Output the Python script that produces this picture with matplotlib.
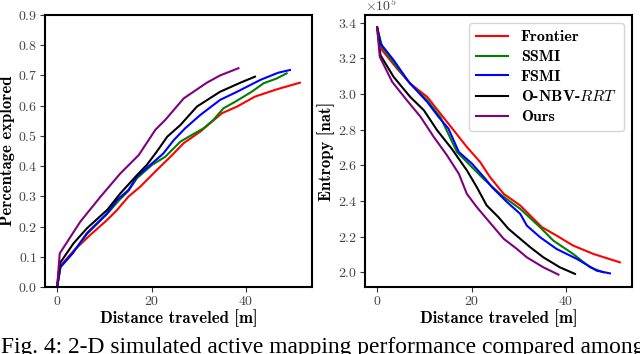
import matplotlib
matplotlib.use("Agg")
import matplotlib.pyplot as plt
import numpy as np
from matplotlib.font_manager import FontProperties

# ---------------- data ----------------
labels = ["Frontier", "SSMI", "FSMI", "O-NBV-$RRT$", "Ours"]
colors = ["red", "green", "blue", "black", "purple"]

# Left: percentage explored vs distance
pe_frontier_x = [0, 0.7, 3.5, 7.0, 10.6, 12.7, 15.1, 17.6, 21.1, 24.0, 26.8, 30.3, 34.9, 38.1, 41.9, 46.5, 51.4]
pe_frontier_y = [0, 0.070, 0.120, 0.172, 0.222, 0.255, 0.299, 0.332, 0.387, 0.431, 0.476, 0.514, 0.575, 0.597, 0.630, 0.654, 0.676]
pe_ssmi_x = [0, 0.7, 3.3, 6.3, 10.6, 13.0, 15.1, 16.9, 20.1, 22.9, 26.1, 28.5, 31.0, 33.1, 35.2, 37.7, 41.2, 43.7, 46.5, 48.6]
pe_ssmi_y = [0, 0.065, 0.112, 0.175, 0.242, 0.285, 0.318, 0.360, 0.404, 0.431, 0.481, 0.503, 0.525, 0.553, 0.591, 0.613, 0.646, 0.674, 0.690, 0.707]
pe_fsmi_x = [0, 0.7, 3.2, 6.3, 10.6, 12.7, 15.1, 16.9, 20.1, 22.5, 24.7, 27.1, 30.3, 34.5, 38.1, 43.0, 46.8, 49.3]
pe_fsmi_y = [0, 0.067, 0.110, 0.178, 0.244, 0.288, 0.321, 0.365, 0.409, 0.442, 0.486, 0.525, 0.569, 0.619, 0.646, 0.685, 0.709, 0.718]
pe_onbv_x = [0, 0.55, 3.5, 6.3, 10.6, 13.4, 16.9, 19.0, 21.1, 23.3, 26.1, 29.6, 34.5, 38.8, 41.9]
pe_onbv_y = [0, 0.078, 0.145, 0.194, 0.255, 0.310, 0.370, 0.404, 0.448, 0.497, 0.536, 0.597, 0.646, 0.676, 0.696]
pe_ours_x = [0, 0.55, 4.9, 9.2, 13.4, 17.3, 20.8, 22.9, 26.8, 31.7, 34.5, 38.4]
pe_ours_y = [0, 0.111, 0.216, 0.299, 0.376, 0.437, 0.520, 0.553, 0.624, 0.676, 0.700, 0.724]

# Right: entropy (units of 1e5 nat) vs distance
en_frontier_x = [0, 1.06, 4.2, 7.0, 10.6, 13.4, 16.2, 19.0, 21.8, 23.9, 26.8, 30.3, 32.4, 34.9, 38.0, 41.5, 45.8, 51.4]
en_frontier_y = [3.374, 3.246, 3.143, 3.059, 2.984, 2.890, 2.797, 2.703, 2.619, 2.534, 2.440, 2.375, 2.319, 2.253, 2.206, 2.150, 2.103, 2.056]
en_ssmi_x = [0, 1.06, 4.2, 7.0, 10.6, 13.4, 16.9, 19.7, 22.5, 26.4, 30.3, 34.5, 37.3, 41.5, 45.1, 47.9]
en_ssmi_y = [3.374, 3.265, 3.150, 3.059, 2.965, 2.870, 2.675, 2.600, 2.525, 2.431, 2.356, 2.253, 2.178, 2.103, 2.028, 2.000]
en_fsmi_x = [0, 0.7, 3.5, 6.7, 10.6, 13.0, 15.1, 17.3, 20.1, 22.9, 24.3, 27.5, 30.3, 31.7, 34.5, 38.0, 42.3, 46.5, 49.3]
en_fsmi_y = [3.374, 3.284, 3.190, 3.068, 2.956, 2.872, 2.806, 2.675, 2.609, 2.525, 2.478, 2.394, 2.328, 2.262, 2.197, 2.131, 2.075, 2.009, 1.994]
en_onbv_x = [0, 0.7, 3.5, 7.0, 9.9, 12.7, 15.8, 19.0, 21.1, 23.2, 25.7, 27.8, 29.9, 32.4, 35.2, 38.7, 41.9]
en_onbv_y = [3.374, 3.218, 3.096, 2.984, 2.909, 2.797, 2.693, 2.572, 2.478, 2.375, 2.309, 2.244, 2.197, 2.141, 2.084, 2.028, 1.991]
en_ours_x = [0, 0.56, 3.2, 6.3, 9.2, 12.0, 14.8, 17.3, 19.0, 21.1, 23.2, 26.8, 29.6, 31.7, 35.2, 38.4]
en_ours_y = [3.374, 3.209, 3.068, 2.965, 2.872, 2.759, 2.656, 2.553, 2.440, 2.366, 2.300, 2.188, 2.131, 2.084, 2.028, 1.987]

left_series = [(pe_frontier_x, pe_frontier_y), (pe_ssmi_x, pe_ssmi_y), (pe_fsmi_x, pe_fsmi_y),
               (pe_onbv_x, pe_onbv_y), (pe_ours_x, pe_ours_y)]
right_series = [(en_frontier_x, en_frontier_y), (en_ssmi_x, en_ssmi_y), (en_fsmi_x, en_fsmi_y),
                (en_onbv_x, en_onbv_y), (en_ours_x, en_ours_y)]

# ---------------- style ----------------
plt.rcParams['font.family'] = ['cmr10', 'DejaVu Serif']
plt.rcParams['mathtext.fontset'] = 'cm'
plt.rcParams['axes.formatter.use_mathtext'] = True
plt.rcParams['axes.unicode_minus'] = False

fig = plt.figure(figsize=(6.4, 3.54), dpi=100)
ax1 = fig.add_axes([0.0703, 0.1893, 0.4172, 0.7683])
ax2 = fig.add_axes([0.5703, 0.1893, 0.4172, 0.7683])

bold = dict(family=['cmb10', 'DejaVu Serif'], fontsize=12)

for (x, y), c, lab in zip(left_series, colors, labels):
    ax1.plot(x, y, color=c, lw=1.5, label=lab)
for (x, y), c, lab in zip(right_series, colors, labels):
    ax2.plot(x, np.array(y) * 1e5, color=c, lw=1.5, label=lab)

ax1.set_ylim(0, 0.9)
ax1.set_yticks(np.arange(0, 0.91, 0.1))
ax1.set_xticks([0, 20, 40])
ax1.set_xlabel("Distance traveled [m]", labelpad=1, **bold)
ax1.set_ylabel("Percentage explored", labelpad=2, **bold)

ax2.set_xticks([0, 20, 40])
ax2.set_yticks(np.arange(2.0, 3.41, 0.2) * 1e5)
ax2.ticklabel_format(axis='y', style='sci', scilimits=(0, 0), useMathText=True)
ax2.set_xlabel("Distance traveled [m]", labelpad=1, **bold)
ax2.set_ylabel("Entropy [nat]", labelpad=2, **bold)

for ax in (ax1, ax2):
    ax.tick_params(labelsize=10, length=3.5, width=0.8, pad=2, colors='#333333', labelcolor='#444444')
    for s in ax.spines.values():
        s.set_linewidth(1.5)
        s.set_color('black')

off = ax2.yaxis.get_offset_text()
off.set_fontsize(10)
off.set_color('#444444')

leg = ax2.legend(loc='upper right', prop=FontProperties(family=['cmb10', 'DejaVu Serif'], size=11.5),
                 handlelength=2.0, borderpad=0.45, labelspacing=0.35, handletextpad=0.8,
                 frameon=True, borderaxespad=0.5)
leg.get_frame().set_edgecolor('#cccccc')

fig.text(0.002, 0.0037, "Fig. 4: 2-D simulated active mapping performance compared among",
         family=['Liberation Serif'], fontsize=16.9, ha='left', va='baseline')

fig.savefig("out.png", dpi=100)
